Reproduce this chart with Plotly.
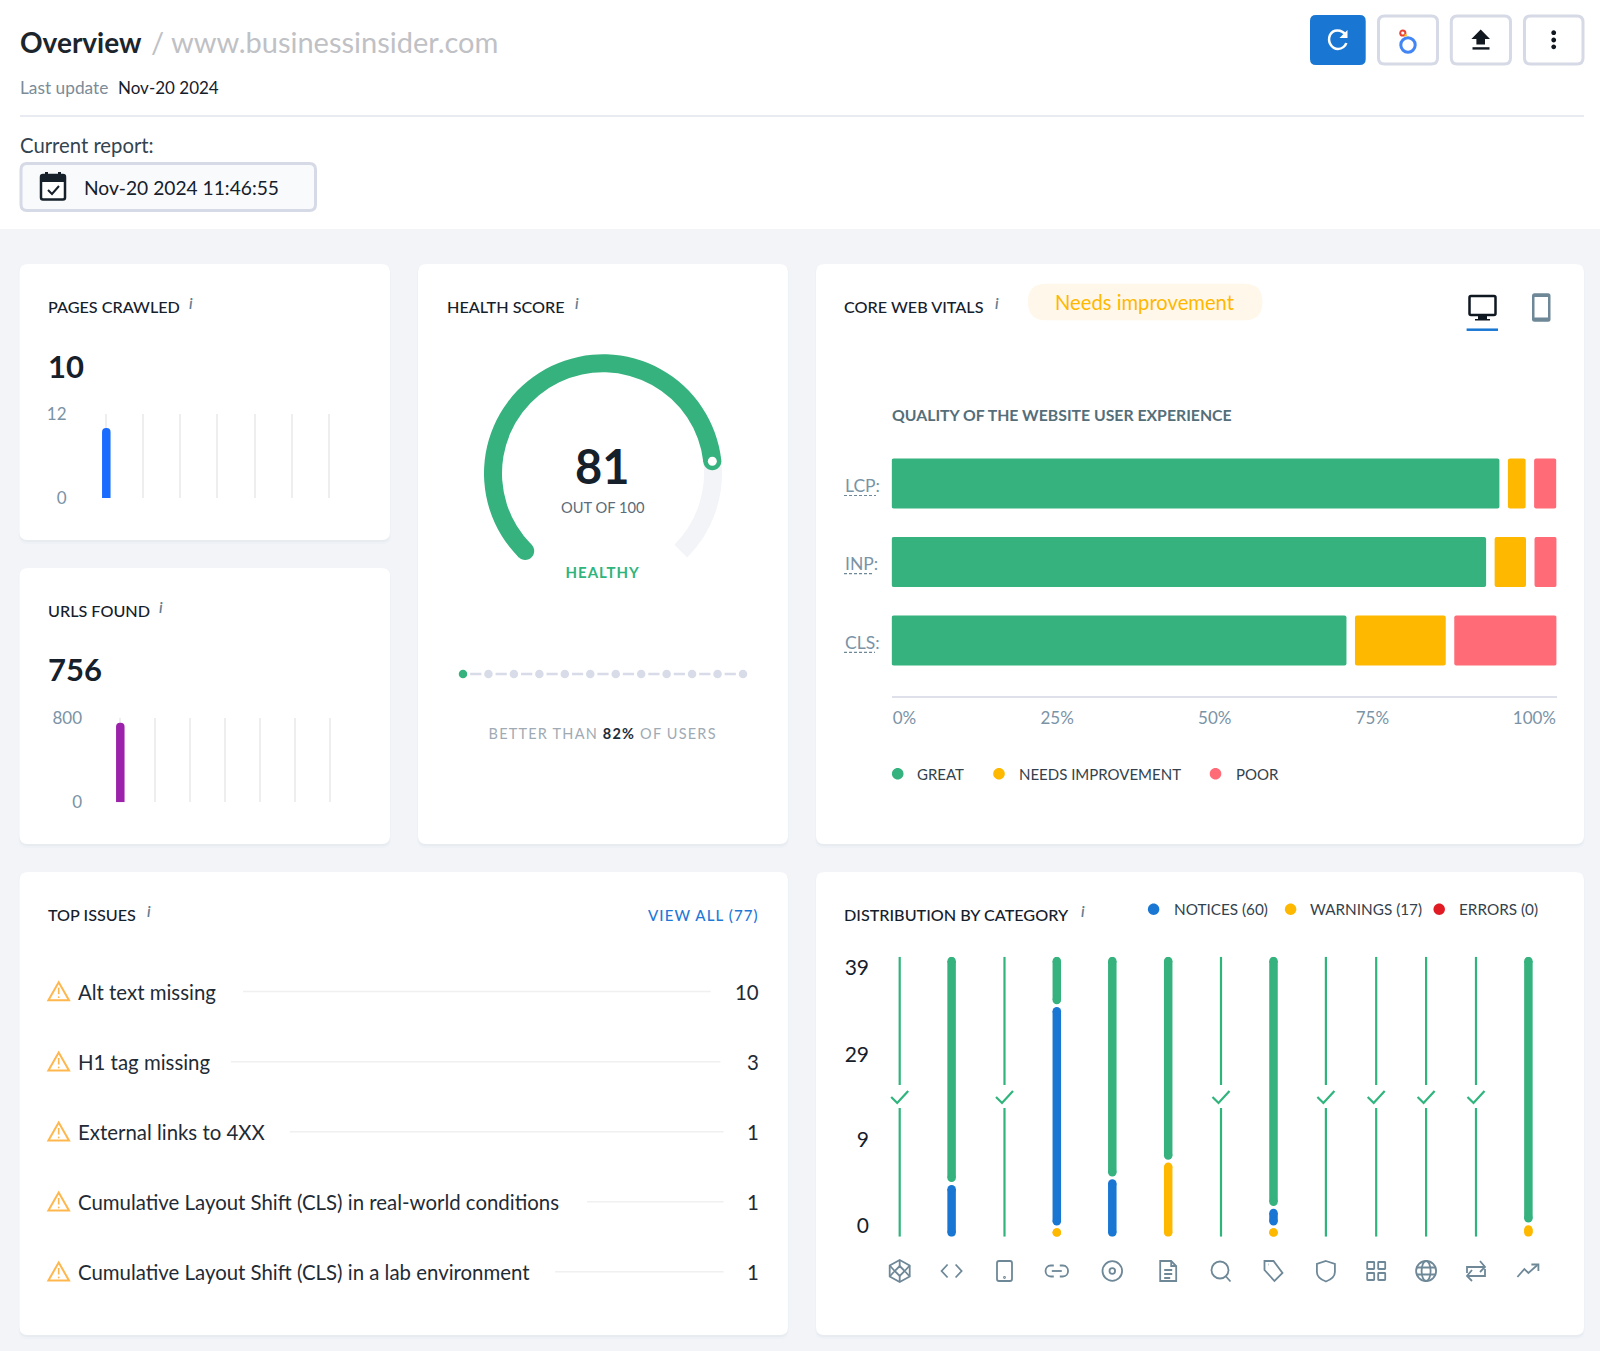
import re, math
import plotly.graph_objects as go

W, H = 1600, 1351
FONT = "Lato"

# ---------- data ----------
pages_values = [10]
pages_ticks = [0, 12]
urls_values = [756]
urls_ticks = [0, 800]
health_score = 81
health_max = 100
percentile_steps = list(range(12))
percentile_active = 0

cwv_metrics = ["LCP:", "INP:", "CLS:"]
cwv_great = [91.4, 89.4, 68.4]
cwv_needs = [2.66, 4.72, 13.65]
cwv_poor = [3.34, 3.34, 15.4]
cwv_tick_labels = ["0%", "25%", "50%", "75%", "100%"]

issue_names = ["Alt text missing", "H1 tag missing", "External links to 4XX",
               "Cumulative Layout Shift (CLS) in real-world conditions",
               "Cumulative Layout Shift (CLS) in a lab environment"]
issue_counts = [10, 3, 1, 1, 1]

dist_tick_labels = ["0", "9", "29", "39"]
dist_green = [100, 81, 100, 17.5, 79, 73, 100, 89.5, 100, 100, 100, 100, 95.4]
dist_blue = [0, 19, 0, 79, 21, 0, 0, 7, 0, 0, 0, 0, 0]
dist_orange = [0, 0, 0, 3.5, 0, 27, 0, 3.5, 0, 0, 0, 0, 4.6]

# ---------- layout constants (not data) ----------
GREEN = "#35b27d"; AMBER = "#ffb800"; RED = "#ff6b77"; BLUE = "#1976d2"
SLATE = "#6e8898"; INK = "#15202b"; BORDER = "#d6d9e6"
dist_centres = [899.7, 951.6, 1004.5, 1056.8, 1112.3, 1168.2, 1221, 1273.5,
                1325.9, 1376.2, 1426.1, 1476, 1528.4]
dist_tick_pos = [3.8, 34.5, 64.9, 96]
cwv_tick_pos = [1.94, 24.9, 48.6, 72.3, 96.66]
issue_y = [991.7, 1062, 1132, 1202, 1272]
issue_line = [(243, 710.7), (231, 720.4), (289.8, 723.5), (587, 723.5), (555, 723.5)]

shapes, annotations = [], []

def px(x): return x / W
def py(y): return 1 - y / H
def dx(a, b): return [px(a), px(b)]
def dy(bottom, top): return [py(bottom), py(top)]

def to_paper(path, ox=0, oy=0):
    out = []
    for cmd, args in re.findall(r"([MLCQZ])([^MLCQZ]*)", path):
        nums = [float(n) for n in re.findall(r"-?\d*\.?\d+", args)]
        pts = [f"{px(nums[i]+ox):.6f},{py(nums[i+1]+oy):.6f}" for i in range(0, len(nums), 2)]
        out.append(cmd + " ".join(pts))
    return " ".join(out)

def path(d, ox=0, oy=0, fill=None, stroke=None, width=0, layer="above", cap=None):
    shapes.append(dict(type="path", xref="paper", yref="paper", path=to_paper(d, ox, oy),
                       fillcolor=fill or "rgba(0,0,0,0)",
                       line=dict(color=stroke or "rgba(0,0,0,0)", width=width), layer=layer))

def rr(x0, y0, x1, y1, r):
    return (f"M{x0+r} {y0}L{x1-r} {y0}Q{x1} {y0} {x1} {y0+r}L{x1} {y1-r}Q{x1} {y1} {x1-r} {y1}"
            f"L{x0+r} {y1}Q{x0} {y1} {x0} {y1-r}L{x0} {y0+r}Q{x0} {y0} {x0+r} {y0}Z")

def circ(cx, cy, r, rb=None):
    rb = rb or r; k = 0.5523
    return (f"M{cx+r} {cy}C{cx+r} {cy+k*rb} {cx+k*r} {cy+rb} {cx} {cy+rb}"
            f"C{cx-k*r} {cy+rb} {cx-r} {cy+k*rb} {cx-r} {cy}"
            f"C{cx-r} {cy-k*rb} {cx-k*r} {cy-rb} {cx} {cy-rb}"
            f"C{cx+k*r} {cy-rb} {cx+r} {cy-k*rb} {cx+r} {cy}Z")

def line(x0, y0, x1, y1, color, width=1, dash=None, layer="above"):
    shapes.append(dict(type="line", xref="paper", yref="paper", x0=px(x0), x1=px(x1), y0=py(y0), y1=py(y1),
                       line=dict(color=color, width=width, dash=dash), layer=layer))

def txt(x, y, s, size, color=INK, anchor="left", weight=None, italic=False, yref="paper"):
    f = dict(family=FONT, size=size, color=color)
    if weight: f["weight"] = weight
    if italic: f["style"] = "italic"
    annotations.append(dict(x=px(x), y=py(y) if yref == "paper" else y, xref="paper", yref=yref, text=s,
                            showarrow=False, xanchor=anchor, yanchor="middle", align=anchor, font=f,
                            borderpad=0, borderwidth=0))

# ---------- page furniture ----------
path(rr(-2, 229, W + 2, H + 2, 0), fill="#f2f4f8", layer="below")
cards = [(19.5, 264, 390, 540), (19.5, 568, 390, 844), (418, 264, 788, 844),
         (816, 264, 1584, 844), (19.5, 872, 788, 1335), (816, 872, 1584, 1335)]
for x0, y0, x1, y1 in cards:
    path(rr(x0 - 1, y0, x1 + 1, y1 + 4, 9), fill="rgba(70,80,120,0.018)", layer="below")
    path(rr(x0, y0, x1, y1 + 2, 8), fill="rgba(70,80,120,0.03)", layer="below")
    path(rr(x0, y0, x1, y1, 8), fill="#ffffff", layer="below")

txt(20, 41.5, "Overview", 28, "#1d252c", weight=700)
txt(151, 41.5, "/ www.businessinsider.com", 29, "#bfc1c5")
txt(20, 88, "Last update", 17.3, "#7b8b98")
txt(118, 88, "Nov-20 2024", 17, "#15202b")
line(20, 116, 1584, 116, "#e1e4ee", 1.5, layer="below")
txt(20, 145.5, "Current report:", 20.3, "#33444f")
path(rr(21, 163.5, 315.5, 210.5, 6), fill="#f9fafc", stroke=BORDER, width=3, layer="below")
txt(84, 187, "Nov-20 2024 11:46:55", 19.2, "#15202b")
# calendar icon
path(rr(41, 175, 65, 199.5, 2), fill="#ffffff", stroke="#15202b", width=2.5)
path("M41 175L65 175L65 182L41 182Z", fill="#15202b")
path("M45 172L48 172L48 176L45 176Z M58 172L61 172L61 176L58 176Z", fill="#15202b")
path("M48 190L52 194L59 186", stroke="#15202b", width=2)

# top-right buttons
path(rr(1310, 15, 1365.7, 65, 6), fill=BLUE)
for a, b in [(1378.5, 1437.5), (1451.3, 1510.5), (1524.5, 1583)]:
    path(rr(a, 16, b, 64, 6), fill="#ffffff", stroke=BORDER, width=3)
path("M1345.2 34.5C1341.5 29 1333 29 1330 35C1327 42 1332 49 1338 49C1342 49 1345.5 46 1346.3 43",
     stroke="#ffffff", width=2.5)
path("M1347.5 30L1347.5 38L1339.5 38Z", fill="#ffffff")
path(circ(1408, 45, 7.2), stroke="#4285f4", width=3)
path(circ(1402.8, 33, 2.6), stroke="#ea4335", width=2)
path(circ(1405.6, 35.3, 1.3), fill="#fbbc04")
path("M1480.7 29.5L1490 39L1485 39L1485 44.5L1476.4 44.5L1476.4 39L1471.4 39Z", fill="#111820")
path("M1472.5 47.2L1489.5 47.2L1489.5 49.6L1472.5 49.6Z", fill="#111820")
for yy in (32.7, 40, 46.8):
    path(circ(1553.7, yy, 2.4), fill="#111820")

def header(x, y, s, ix):
    txt(x, y, s, 16.2, INK, weight=500)
    txt(ix, y - 3, "i", 15, "#5f7d90", anchor="center", italic=True, weight=600)

header(48, 306, "PAGES CRAWLED", 191)
header(48, 610, "URLS FOUND", 160.7)
header(446.7, 306, "HEALTH SCORE", 576.7)
header(844.3, 306, "CORE WEB VITALS", 997.4)
header(48, 914.3, "TOP ISSUES", 149)
header(844.3, 914.3, "DISTRIBUTION BY CATEGORY", 1083)

txt(48, 366, str(pages_values[0]), 31, INK, weight=700)
txt(48, 669.5, str(urls_values[0]), 31, INK, weight=700)

# ---------- figure ----------
fig = go.Figure()
tickfont_small = dict(family=FONT, size=17, color="#7a93a6")

def mini_axes(n, left, right, top, bottom, x0_px, step, ticks):
    sx = "" if n == 1 else str(n)
    fig.layout[f"xaxis{sx}"] = dict(domain=dx(left, right), anchor=f"y{sx}",
        range=[(left - x0_px) / step, (right - x0_px) / step], tickvals=list(range(7)),
        showticklabels=False, showgrid=True, gridcolor="#eeeeee", gridwidth=1.5,
        zeroline=False, showline=False, ticks="", fixedrange=True)
    fig.layout[f"yaxis{sx}"] = dict(domain=dy(bottom, top), anchor=f"x{sx}", range=[0, ticks[1]],
        tickvals=ticks, tickfont=tickfont_small, showgrid=False, zeroline=False, showline=False,
        ticks="", fixedrange=True)

mini_axes(1, 67.5, 340, 414, 498, 106.3, 37.05, pages_ticks)
mini_axes(2, 83, 340, 718, 802.3, 120.3, 35, urls_ticks)
fig.add_trace(go.Bar(x=[0], y=pages_values, width=8.5 / 37.05, xaxis="x", yaxis="y",
                     marker=dict(color="#1a6cff", cornerradius=4, line_width=0), showlegend=False, hoverinfo="skip"))
fig.add_trace(go.Bar(x=[0], y=urls_values, width=8.5 / 35, xaxis="x2", yaxis="y2",
                     marker=dict(color="#9c22ab", cornerradius=4, line_width=0), showlegend=False, hoverinfo="skip"))

# ---------- gauge ----------
CX, CY, R_OUT, R_IN = 603, 473.3, 119, 101
span = 270.0
fig.add_trace(go.Pie(values=[health_score, health_max - health_score, health_max / 3],
                     rotation=225, direction="clockwise", sort=False, hole=R_IN / R_OUT,
                     marker=dict(colors=[GREEN, "#f2f4f8", "rgba(0,0,0,0)"], line=dict(width=0)),
                     textinfo="none", hoverinfo="skip", showlegend=False,
                     domain=dict(x=dx(CX - R_OUT, CX + R_OUT), y=dy(CY + R_OUT, CY - R_OUT))))
Rm = (R_OUT + R_IN) / 2
def polar(a):
    return CX + Rm * math.sin(math.radians(a)), CY - Rm * math.cos(math.radians(a))
sx_, sy_ = polar(-135)
ex_, ey_ = polar(-135 + span * health_score / health_max)
path(circ(sx_, sy_, 9), fill=GREEN)
path(circ(ex_, ey_, 9), fill=GREEN)
path(circ(ex_, ey_, 4.5), fill="#ffffff")
txt(602.7, 466, str(health_score), 47, INK, "center", weight=700)
txt(602.7, 507, f"OUT OF {health_max}", 14.7, "#5b6b78", "center")
txt(602.7, 572, "HEALTHY", 15, "#2fb47c", "center", weight=700)
txt(602.7, 733.4, "BETTER THAN <b style='color:#1e2d3a'>82%</b> OF USERS", 14.5, "#a0aab4", "center")

# percentile strip
step = (743 - 463) / 11
fig.layout.xaxis5 = dict(domain=dx(453, 753), anchor="y5", visible=False, fixedrange=True,
                         range=[(453 - 463) / step, (753 - 463) / step])
fig.layout.yaxis5 = dict(domain=dy(684, 664), anchor="x5", visible=False, fixedrange=True, range=[-1, 1])
sx, sy = [], []
for i in percentile_steps[:-1]:
    sx += [i + 0.28, i + 0.72, None]; sy += [0, 0, None]
fig.add_trace(go.Scatter(x=sx, y=sy, mode="lines", line=dict(color="#d8dbe8", width=2.5), xaxis="x5", yaxis="y5",
                         showlegend=False, hoverinfo="skip"))
fig.add_trace(go.Scatter(x=percentile_steps, y=[0] * 12, mode="markers", xaxis="x5", yaxis="y5",
                         marker=dict(size=8.5, color=[GREEN if i == percentile_active else "#d8dbe8" for i in percentile_steps], line_width=0),
                         showlegend=False, hoverinfo="skip"))

# ---------- core web vitals ----------
GAP = 1.28
path(rr(1028, 283.7, 1262.4, 320.3, 18), fill="#fff7ea", layer="below")
txt(1145, 302.5, "Needs improvement", 20.2, AMBER, "center")
txt(891.6, 415, "QUALITY OF THE WEBSITE USER EXPERIENCE", 15.8, "#546e7a", weight=700)
# monitor
path(rr(1469.5, 296, 1495.5, 315, 1.5), fill="#ffffff", stroke="#0f1720", width=2.5)
path("M1478 316L1487 316L1487 319L1490 319L1490 320.5L1475 320.5L1475 319L1478 319Z", fill="#0f1720")
line(1466.6, 329.7, 1498, 329.7, BLUE, 2.5)
# phone
path(rr(1532, 293.3, 1550.5, 321.7, 2.5), fill=SLATE)
path("M1534.5 297L1548 297L1548 317.5L1534.5 317.5Z", fill="#ffffff")

fig.layout.xaxis3 = dict(domain=dx(891.6, 1556.6), anchor="y3", range=[0, 100], tickvals=cwv_tick_pos,
                         ticktext=cwv_tick_labels, tickfont=dict(family=FONT, size=17, color="#7a93a6"),
                         showgrid=False, zeroline=False, showline=True, linecolor="#dfe1ea", linewidth=2,
                         ticks="outside", ticklen=6, tickcolor="rgba(0,0,0,0)", fixedrange=True)
fig.layout.yaxis3 = dict(domain=dy(695.7, 444.25), anchor="x3", range=[2.703, -0.5], visible=False, fixedrange=True)
rows = list(range(len(cwv_metrics)))
base_needs = [g + GAP for g in cwv_great]
base_poor = [g + GAP + n + GAP for g, n in zip(cwv_great, cwv_needs)]
for vals, base, col in [(cwv_great, [0, 0, 0], GREEN), (cwv_needs, base_needs, AMBER), (cwv_poor, base_poor, RED)]:
    fig.add_trace(go.Bar(y=rows, x=vals, base=base, orientation="h", width=50 / 78.5, xaxis="x3", yaxis="y3",
                         marker=dict(color=col, cornerradius=2, line_width=0), showlegend=False, hoverinfo="skip"))
for i, m in enumerate(cwv_metrics):
    annotations.append(dict(x=px(843), xref="paper", y=i, yref="y3", yshift=-1.5, text=m, showarrow=False,
                            xanchor="left", yanchor="middle", font=dict(family=FONT, size=17.5, color="#7a93a6")))
for y, b in [(495.5, 876), (573.7, 872), (652.3, 875)]:
    line(844, y, b, y, "#6e8898", 1.2, dash="3px,2px")
for x, tx, s, c in [(897.7, 916.8, "GREAT", GREEN), (999, 1018.6, "NEEDS IMPROVEMENT", AMBER), (1215.5, 1235.7, "POOR", RED)]:
    path(circ(x, 773.7, 5.8), fill=c)
    txt(tx, 773.7, s, 15, "#33424d")

# ---------- top issues ----------
txt(648, 914.7, "VIEW ALL (77)", 15, "#1e78d8", weight=500)
for y, name, n, (a, b) in zip(issue_y, issue_names, issue_counts, issue_line):
    path("M58.7 -9L69 9L48.4 9Z", 0, y - 0.5, stroke="#ffb74d", width=2, fill="#ffffff")
    path("M58.7 -3.5L58.7 3", 0, y - 0.5, stroke="#ffb74d", width=1.6)
    path(circ(58.7, 6, 0.9), 0, y - 0.5, fill="#ffb74d")
    txt(77.5, y, name, 20.4, "#1f2b35")
    line(a, y - 0.3, b, y - 0.3, "#f0f0f0", 1.5)
    txt(759, y, str(n), 20.4, "#1f2b35", "right")

# ---------- distribution ----------
for x, tx, s, c in [(1153.6, 1173.7, "NOTICES (60)", BLUE), (1290.6, 1310.3, "WARNINGS (17)", AMBER), (1439.2, 1458.9, "ERRORS (0)", "#e01b24")]:
    path(circ(x, 909.3, 5.7), fill=c)
    txt(tx, 909.3, s, 15.3, "#33424d")

fig.layout.xaxis4 = dict(domain=dx(870, 1560), anchor="y4", range=[870, 1560], visible=False, fixedrange=True)
fig.layout.yaxis4 = dict(domain=dy(1236.7, 956.7), anchor="x4", range=[0, 100], tickvals=dist_tick_pos,
                         ticktext=dist_tick_labels, tickfont=dict(family=FONT, size=21, color="#15202b"),
                         showgrid=False, zeroline=False, showline=False, ticks="", fixedrange=True)
unit = 280 / 100
BW = 8.5
r = BW / 2 / unit
segs = {"o": ([], []), "b": ([], []), "g": ([], [])}
thin_x, thin_y, check_idx = [], [], []
for i, c in enumerate(dist_centres):
    if dist_green[i] >= 100:
        thin_x += [c, c, None, c, c, None]; thin_y += [0, 46, None, 54.2, 100, None]
        check_idx.append(i)
        continue
    lo = 0
    parts = [("o", dist_orange[i]), ("b", dist_blue[i]), ("g", dist_green[i])]
    parts = [p for p in parts if p[1] > 0]
    for k, (key, v) in enumerate(parts):
        hi = lo + v
        a = lo + (0.5 if k else 0) + r
        b = hi - (0.5 if k < len(parts) - 1 else 0) - r
        if a > b: a = b = (a + b) / 2
        segs[key][0].extend([c, c, None]); segs[key][1].extend([a, b, None])
        lo = hi
for key, col in [("g", GREEN), ("b", BLUE), ("o", AMBER)]:
    fig.add_trace(go.Scatter(x=segs[key][0], y=segs[key][1], mode="lines+markers", xaxis="x4", yaxis="y4",
                             line=dict(color=col, width=BW), marker=dict(size=BW, color=col, line_width=0),
                             showlegend=False, hoverinfo="skip", connectgaps=False))
fig.add_trace(go.Scatter(x=thin_x, y=thin_y, mode="lines", xaxis="x4", yaxis="y4", line=dict(color="#2fb47c", width=2.2),
                         showlegend=False, hoverinfo="skip"))
for i in check_idx:
    path("M-8.5 0L-2.5 6L8.5 -6", dist_centres[i], 1097, stroke="#2fb47c", width=2.2)

# category icons (drawn relative to their centre)
cy = 1271
ic = dict(stroke=SLATE, width=1.8)
icons = [
    ["M0 -11L10 -5.5L10 5.5L0 11L-10 5.5L-10 -5.5Z", "M0 -5L5 0L0 5L-5 0Z", "M-10 -5.5L-5 0M10 -5.5L5 0M-10 5.5L-5 0M10 5.5L5 0M0 -11L0 -5M0 11L0 5"],
    ["M-4 -6.5L-10 0L-4 6.5", "M4 -6.5L10 0L4 6.5"],
    [rr(-7.5, -10, 7.5, 10, 2), circ(0, 6.5, 0.5)],
    ["M-3 -5.5L-6 -5.5C-13 -5.5 -13 5.5 -6 5.5L-3 5.5", "M3 -5.5L6 -5.5C13 -5.5 13 5.5 6 5.5L3 5.5", "M-5 0L5 0"],
    [circ(0, 0, 9.8), circ(0, 0, 2.8)],
    ["M-8 -10L3 -10L8 -5L8 10L-8 10Z", "M3 -10L3 -5L8 -5", "M-4 -1L4 -1M-4 3L4 3M-4 7L2 7"],
    [circ(-1, -1, 8.5), "M5 5.5L9.5 10.5"],
    ["M-9 -10L0 -10L9 2L1 10L-9 -1Z", "M-5 -6.5L-4.6 -6.5"],
    ["M0 -10L9 -7L9 1C9 6 4 9 0 10.5C-4 9 -9 6 -9 1L-9 -7Z"],
    [rr(-9, -9, -2, -2, 0.5), rr(2, -9, 9, -2, 0.5), rr(-9, 2, -2, 9, 0.5), rr(2, 2, 9, 9, 0.5)],
    [circ(0, 0, 10), circ(0, 0, 4.5, 10), "M-10 -3.5L10 -3.5M-10 3.5L10 3.5"],
    ["M-9 2L-9 -4L8 -4M4 -10L9 -4L4 1", "M9 -2L9 5L-8 5M-4 -1L-9 5L-4 10"],
    ["M-11 6L-4 -2L0 2L9 -6", "M3 -6.5L10 -6.5L10 0"],
]
for c, parts in zip(dist_centres, icons):
    for p in parts:
        path(p, c, cy, **ic)

fig.update_layout(width=W, height=H, margin=dict(l=0, r=0, t=0, b=0, autoexpand=False), autosize=False,
                  paper_bgcolor="#ffffff", plot_bgcolor="rgba(0,0,0,0)", barmode="overlay",
                  showlegend=False, shapes=shapes, annotations=annotations,
                  font=dict(family=FONT), hovermode=False)
spacing_js = """
document.body.style.margin='0';document.body.style.overflow='hidden';
var sp={'BETTER':1.2,'HEALTHY':1.0,'VIEW ALL':1.1};
document.querySelectorAll('.annotation-text').forEach(function(t){
  for(var k in sp){ if(t.textContent.indexOf(k)===0){ t.style.letterSpacing=sp[k]+'px'; } }
});
"""
fig.write_html("out.html", config=dict(displayModeBar=False), post_script=spacing_js)
